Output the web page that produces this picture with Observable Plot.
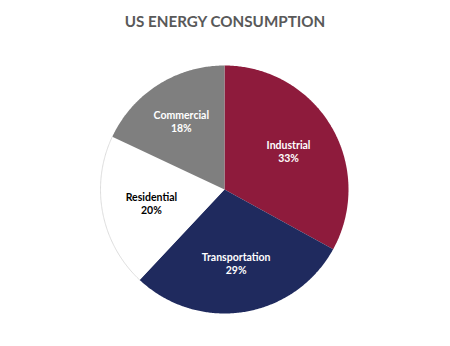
<!DOCTYPE html>
<html><head><meta charset="utf-8">
<script src="https://cdn.jsdelivr.net/npm/d3@7"></script>
<script src="https://cdn.jsdelivr.net/npm/@observablehq/plot@0.6"></script>
<style>
body{margin:0;background:#fff;}
#title{width:450px;height:40px;line-height:42px;text-align:center;font-family:Lato,"Open Sans",sans-serif;font-weight:bold;font-size:15.2px;color:#595959;}
</style></head><body>
<div id="title">US ENERGY CONSUMPTION</div>
<div id="chart"></div>
<script>
const sectors = ["Industrial", "Transportation", "Residential", "Commercial"];
const shares = [33, 29, 20, 18];
const fills = ["#8E1B3C", "#1F2A5E", "#FFFFFF", "#7F7F7F"];
const textFills = ["#FFFFFF", "#FFFFFF", "#000000", "#FFFFFF"];

const data = sectors.map((s, i) => ({sector: s, share: shares[i], fill: fills[i], textFill: textFills[i]}));
const arcs = d3.pie().sort(null).value(d => d.share)(data);

const wedgePts = [];
const rimPts = [];
const labels = [];
arcs.forEach(p => {
  const d = p.data;
  const n = Math.max(4, Math.ceil((p.endAngle - p.startAngle) / 0.01));
  wedgePts.push({sector: d.sector, fill: d.fill, x: 0, y: 0});
  for (let i = 0; i <= n; i++) {
    const a = p.startAngle + (p.endAngle - p.startAngle) * i / n;
    const pt = {sector: d.sector, fill: d.fill, x: Math.sin(a), y: Math.cos(a)};
    wedgePts.push(pt);
    if (d.sector === "Residential") rimPts.push(pt);
  }
  wedgePts.push({sector: d.sector, fill: d.fill, x: 0, y: 0});
  const m = (p.startAngle + p.endAngle) / 2;
  const k = d.sector === "Commercial" ? 0.65 : 0.6;
  labels.push({text: d.sector + "\n" + d.share + "%", textFill: d.textFill, x: k * Math.sin(m), y: k * Math.cos(m)});
});

const W = 450, H = 306, cx = 224, cy = 149, R = 124;
const chart = Plot.plot({
  width: W, height: H,
  margin: 0,
  x: {domain: [-cx / R, (W - cx) / R], range: [0, W], axis: null},
  y: {domain: [cy / R, -(H - cy) / R], range: [0, H], axis: null},
  color: {type: "identity"},
  marks: [
    Plot.line(wedgePts, {x: "x", y: "y", z: "sector", fill: "fill", stroke: "none"}),
    Plot.line(rimPts, {x: "x", y: "y", stroke: "#d4d4d4", strokeWidth: 0.8}),
    Plot.text(labels, {x: "x", y: "y", text: "text", fill: "textFill", fontSize: 10.5, fontWeight: "bold", lineHeight: 1.25, fontFamily: "Lato, 'Open Sans', sans-serif"})
  ]
});
document.getElementById("chart").appendChild(chart);
</script>
</body></html>
